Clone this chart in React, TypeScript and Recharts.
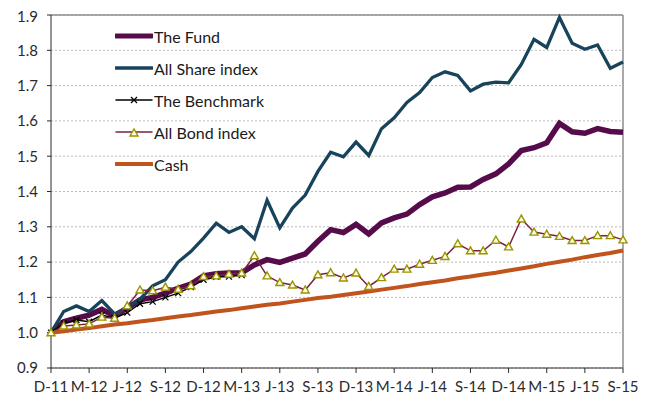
import { LineChart, Line, XAxis, YAxis, CartesianGrid, ReferenceLine } from 'recharts';

// Monthly index values, Dec 2011 to Sep 2015 (rebased to 1.0)
const months = [
  'D-11', 'J-12', 'F-12', 'M-12', 'A-12', 'M-12', 'J-12', 'J-12', 'A-12', 'S-12', 'O-12', 'N-12',
  'D-12', 'J-13', 'F-13', 'M-13', 'A-13', 'M-13', 'J-13', 'J-13', 'A-13', 'S-13', 'O-13', 'N-13',
  'D-13', 'J-14', 'F-14', 'M-14', 'A-14', 'M-14', 'J-14', 'J-14', 'A-14', 'S-14', 'O-14', 'N-14',
  'D-14', 'J-15', 'F-15', 'M-15', 'A-15', 'M-15', 'J-15', 'J-15', 'A-15', 'S-15',
];

const fund = [
  1.0, 1.031, 1.041, 1.05, 1.066, 1.047, 1.07, 1.093, 1.1, 1.112, 1.126, 1.138,
  1.161, 1.167, 1.169, 1.17, 1.192, 1.207, 1.199, 1.211, 1.223, 1.259, 1.292, 1.284,
  1.307, 1.28, 1.311, 1.325, 1.336, 1.363, 1.385, 1.396, 1.412, 1.413, 1.434, 1.45,
  1.478, 1.516, 1.524, 1.538, 1.593, 1.569, 1.565, 1.578, 1.57, 1.568,
];

const allShare = [
  1.0, 1.06, 1.076, 1.06, 1.091, 1.053, 1.072, 1.095, 1.133, 1.15, 1.2, 1.23,
  1.268, 1.31, 1.284, 1.3, 1.266, 1.375, 1.297, 1.353, 1.39, 1.457, 1.511, 1.498,
  1.54, 1.502, 1.578, 1.609, 1.652, 1.68, 1.723, 1.739, 1.729, 1.685, 1.704, 1.71,
  1.708, 1.76, 1.831, 1.808, 1.893, 1.82, 1.803, 1.815, 1.749, 1.767,
];

const benchmark = [
  1.0, 1.027, 1.036, 1.031, 1.05, 1.041, 1.057, 1.082, 1.088, 1.1, 1.112, 1.129,
  1.15, 1.158, 1.159, 1.163,
];

const allBond = [
  1.0, 1.019, 1.022, 1.025, 1.044, 1.041, 1.076, 1.121, 1.119, 1.129, 1.123, 1.133,
  1.159, 1.161, 1.166, 1.169, 1.218, 1.161, 1.142, 1.135, 1.121, 1.164, 1.17, 1.155,
  1.169, 1.131, 1.156, 1.18, 1.18, 1.194, 1.205, 1.216, 1.252, 1.232, 1.232, 1.262,
  1.243, 1.322, 1.285, 1.279, 1.273, 1.261, 1.261, 1.275, 1.275, 1.263,
];

const cash = [
  1.0, 1.004, 1.009, 1.013, 1.018, 1.023, 1.027, 1.032, 1.036, 1.041, 1.046, 1.05,
  1.055, 1.06, 1.064, 1.069, 1.074, 1.079, 1.083, 1.088, 1.093, 1.098, 1.102, 1.107,
  1.112, 1.117, 1.122, 1.127, 1.132, 1.138, 1.143, 1.148, 1.154, 1.159, 1.165, 1.17,
  1.176, 1.182, 1.188, 1.195, 1.201, 1.207, 1.214, 1.22, 1.226, 1.233,
];

const yTicks = [0.9, 1.0, 1.1, 1.2, 1.3, 1.4, 1.5, 1.6, 1.7, 1.8, 1.9];

const FONT = 'Lato, "Open Sans", sans-serif';

const chartData = months.map((m, i) => ({
  idx: i,
  month: m,
  fund: fund[i],
  allShare: allShare[i],
  benchmark: i < benchmark.length ? benchmark[i] : null,
  allBond: allBond[i],
  cash: cash[i],
}));

// marker shapes
const CrossDot = ({ cx, cy }: any) => {
  if (cx == null || cy == null) return null;
  return (
    <g>
      <line x1={cx - 3} y1={cy - 3} x2={cx + 3} y2={cy + 3} stroke="#000" strokeWidth={1.2} />
      <line x1={cx - 3} y1={cy + 3} x2={cx + 3} y2={cy - 3} stroke="#000" strokeWidth={1.2} />
    </g>
  );
};

const TriangleDot = ({ cx, cy }: any) => {
  if (cx == null || cy == null) return null;
  return (
    <polygon
      points={`${cx},${cy - 4} ${cx - 4},${cy + 3} ${cx + 4},${cy + 3}`}
      fill="#fbfbe0"
      stroke="#9a9400"
      strokeWidth={1.4}
    />
  );
};

const legendItems = [
  { name: 'The Fund', color: '#560c4b', width: 5, marker: null },
  { name: 'All Share index', color: '#17435b', width: 3.5, marker: null },
  { name: 'The Benchmark', color: '#000', width: 1.5, marker: 'cross' },
  { name: 'All Bond index', color: '#7b2241', width: 1.5, marker: 'triangle' },
  { name: 'Cash', color: '#c0541c', width: 4, marker: null },
];

// legend sits inside the plot area, top left
const ChartLegend = () => (
  <div
    style={{
      position: 'absolute',
      top: 12,
      left: 107,
      fontFamily: FONT,
      fontSize: 16,
      color: '#1a1a1a',
    }}
  >
    {legendItems.map((item) => (
      <div key={item.name} style={{ display: 'flex', alignItems: 'center', height: 32 }}>
        <svg width={38} height={14} style={{ marginRight: 1 }}>
          <line x1={1} y1={7} x2={37} y2={7} stroke={item.color} strokeWidth={item.width} strokeLinecap="round" />
          {item.marker === 'cross' && <CrossDot cx={19} cy={7} />}
          {item.marker === 'triangle' && <TriangleDot cx={19} cy={8} />}
        </svg>
        <span>{item.name}</span>
      </div>
    ))}
  </div>
);

const App = () => {
  return (
    <div style={{ width: 637, height: 392, borderRight: '2px solid #dcdcdc', position: 'relative' }}>
      <LineChart
        width={637}
        height={392}
        data={chartData}
        margin={{ top: 7, right: 22, left: 0, bottom: 7 }}
      >
        <CartesianGrid vertical={false} stroke="#bdbdbd" strokeDasharray="2 2" />
        <XAxis
          dataKey="idx"
          type="category"
          interval={2}
          tickFormatter={(i: number) => months[i]}
          tickSize={5}
          tickMargin={8}
          height={25}
          stroke="#2b2b2b"
          tick={{ fill: '#2b2b2b', fontSize: 15, fontFamily: FONT }}
        />
        <YAxis
          domain={[0.9, 1.9]}
          ticks={yTicks}
          tickFormatter={(v: number) => v.toFixed(1)}
          width={43}
          tickSize={4}
          tickMargin={9}
          stroke="#2b2b2b"
          tick={{ fill: '#2b2b2b', fontSize: 15, fontFamily: FONT }}
        />
        <ReferenceLine y={1.9} stroke="#8c8c8c" strokeWidth={1.5} />
        <ReferenceLine x={45} stroke="#8c8c8c" strokeWidth={1.5} />
        <Line
          type="linear"
          dataKey="fund"
          name="The Fund"
          stroke="#560c4b"
          strokeWidth={5.5}
          dot={false}
          isAnimationActive={false}
        />
        <Line
          type="linear"
          dataKey="allShare"
          name="All Share index"
          stroke="#17435b"
          strokeWidth={3.3}
          dot={false}
          isAnimationActive={false}
        />
        <Line
          type="linear"
          dataKey="benchmark"
          name="The Benchmark"
          stroke="#000"
          strokeWidth={1.5}
          dot={<CrossDot />}
          isAnimationActive={false}
        />
        <Line
          type="linear"
          dataKey="allBond"
          name="All Bond index"
          stroke="#7b2241"
          strokeWidth={1.5}
          dot={<TriangleDot />}
          isAnimationActive={false}
        />
        <Line
          type="linear"
          dataKey="cash"
          name="Cash"
          stroke="#c0541c"
          strokeWidth={4}
          dot={false}
          isAnimationActive={false}
        />
      </LineChart>
      <ChartLegend />
    </div>
  );
};

export default App;
